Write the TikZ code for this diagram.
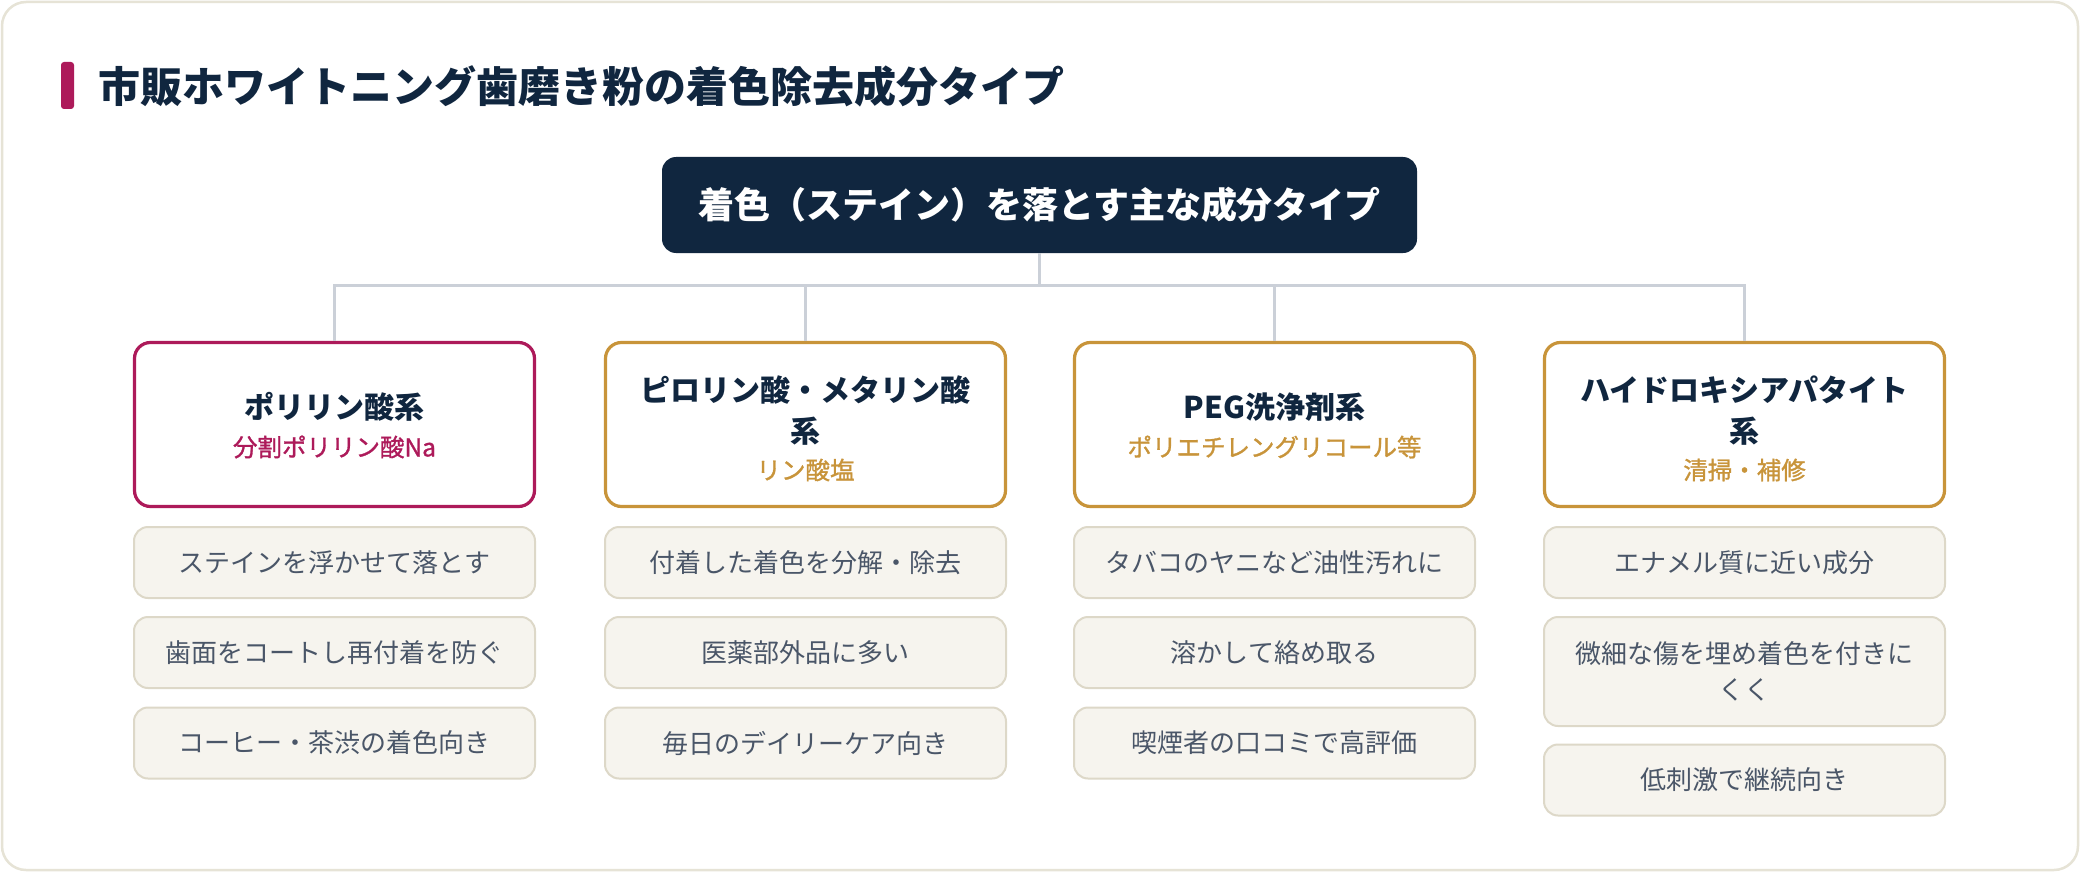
\documentclass[tikz,border=0pt]{standalone}
\usepackage{fontspec}
\newfontfamily\jp{Noto Sans CJK JP}
\newfontfamily\jpmed{Noto Sans CJK JP}[FakeBold=1.2]
\definecolor{navy}{HTML}{10263F}
\definecolor{pinkc}{HTML}{AD1A5A}
\definecolor{goldc}{HTML}{C8943A}
\definecolor{linec}{HTML}{CBD0D8}
\definecolor{detfill}{HTML}{F6F4EE}
\definecolor{detline}{HTML}{DDD8C8}
\definecolor{dettext}{HTML}{4A5668}
\definecolor{cardline}{HTML}{E6E3D6}
\tikzset{
  catbox/.style={draw=#1, line width=3.2pt, rounded corners=16pt, fill=white, minimum width=400pt, minimum height=164pt, inner sep=0pt},
  cattitle/.style={text=navy, font=\jp\bfseries\fontsize{30}{41}\selectfont, inner sep=0pt, align=center},
  catsub/.style={text=#1, font=\jpmed\fontsize{24.5}{30}\selectfont, inner sep=0pt},
  detbox/.style={draw=detline, line width=2pt, fill=detfill, rounded corners=14pt, minimum width=401pt, minimum height=#1, inner sep=0pt, text=dettext, font=\jp\fontsize{26}{36}\selectfont, align=center},
  conn/.style={draw=linec, line width=3pt},
}
\begin{document}
\begin{tikzpicture}[x=1pt,y=-1pt]
\useasboundingbox (0,0) rectangle (2080,872);
\draw[draw=cardline, line width=2.5pt, fill=white, rounded corners=24pt] (2,2) rectangle (2078,870);
% title
\fill[pinkc, rounded corners=3pt] (61,62) rectangle (74,109);
\node[anchor=west, inner sep=0pt, text=navy, font=\jp\bfseries\fontsize{42}{50}\selectfont] (title) at (98,86) {市販ホワイトニング歯磨き粉の着色除去成分タイプ};
% root
\node[fill=navy, rounded corners=14pt, minimum width=755pt, minimum height=96pt, inner sep=0pt, text=white, font=\jp\bfseries\fontsize{36}{42}\selectfont] (root) at (1039.5,205) {着色（ステイン）を落とす主な成分タイプ};
\coordinate (bus) at (1039.5,285);
% categories
\node[catbox=pinkc] (c1) at (334.5,424.5) {};
\node[catbox=goldc] (c2) at (805.5,424.5) {};
\node[catbox=goldc] (c3) at (1274.5,424.5) {};
\node[catbox=goldc] (c4) at (1744.5,424.5) {};
\node[cattitle] (t1) at (334.5,407) {ポリリン酸系};
\node[catsub=pinkc] (s1) at (334.5,447) {分割ポリリン酸Na};
\node[cattitle] (t2) at (805.5,410.5) {ピロリン酸・メタリン酸\\系};
\node[catsub=goldc] (s2) at (805.5,470) {リン酸塩};
\node[cattitle] (t3) at (1274.5,407) {PEG洗浄剤系};
\node[catsub=goldc] (s3) at (1274.5,447) {ポリエチレングリコール等};
\node[cattitle] (t4) at (1744.5,410.5) {ハイドロキシアパタイト\\系};
\node[catsub=goldc] (s4) at (1744.5,470) {清掃・補修};
% connectors
\draw[conn] (root.south) -- (bus);
\draw[conn] (c1.north) -- (c1.north |- bus) -- (c4.north |- bus) -- (c4.north);
\draw[conn] (c2.north |- bus) -- (c2.north);
\draw[conn] (c3.north |- bus) -- (c3.north);
% details
\node[detbox=71pt] (d11) at (334.5,562.5) {ステインを浮かせて落とす};
\node[detbox=71pt] (d12) at (334.5,652.5) {歯面をコートし再付着を防ぐ};
\node[detbox=71pt] (d13) at (334.5,743) {コーヒー・茶渋の着色向き};
\node[detbox=71pt] (d21) at (805.5,562.5) {付着した着色を分解・除去};
\node[detbox=71pt] (d22) at (805.5,652.5) {医薬部外品に多い};
\node[detbox=71pt] (d23) at (805.5,743) {毎日のデイリーケア向き};
\node[detbox=71pt] (d31) at (1274.5,562.5) {タバコのヤニなど油性汚れに};
\node[detbox=71pt] (d32) at (1274.5,652.5) {溶かして絡め取る};
\node[detbox=71pt] (d33) at (1274.5,743) {喫煙者の口コミで高評価};
\node[detbox=71pt] (d41) at (1744.5,562.5) {エナメル質に近い成分};
\node[detbox=109pt] (d42) at (1744.5,671.5) {微細な傷を埋め着色を付きに\\くく};
\node[detbox=71pt] (d43) at (1744.5,780) {低刺激で継続向き};
\end{tikzpicture}
\end{document}
